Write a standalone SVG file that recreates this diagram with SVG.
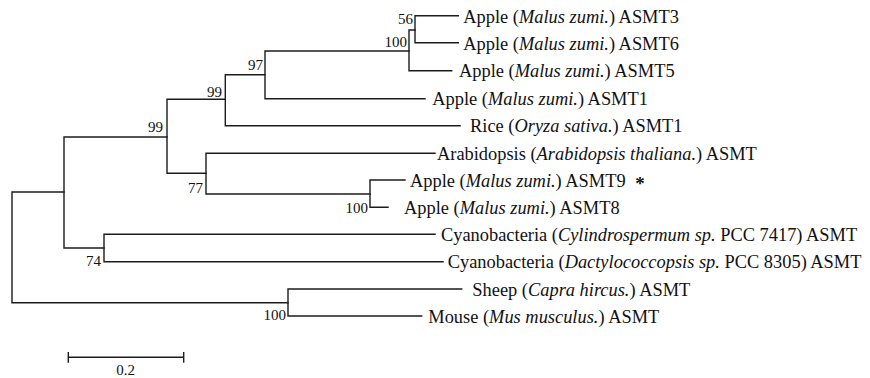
<svg xmlns="http://www.w3.org/2000/svg" width="870" height="378" viewBox="0 0 870 378">
<style>
.br{fill:none;stroke:#1c1c1c;stroke-width:1.4;stroke-linecap:square}
.lf{font-family:"Liberation Serif","Times New Roman",serif;font-size:18.4px;fill:#111}
.bs{font-family:"Liberation Serif","Times New Roman",serif;font-size:15px;fill:#111;text-anchor:end}
.it{font-style:italic}
</style>
<rect width="870" height="378" fill="#fff"/>
<g id="connectors">
<path class="br" d="M12,192 V302.7 M12,192 H64 M12,302.7 H288"/>
<path class="br" d="M64,137 V248 M64,137 H167 M64,248 H104"/>
<path class="br" d="M167,99.3 V173.3 M167,99.3 H225.3 M167,173.3 H206"/>
<path class="br" d="M225.3,74.7 V125.7 M225.3,74.7 H265 M225.3,125.7 H460"/>
<path class="br" d="M265,51 V98.7 M265,51 H409 M265,98.7 H425"/>
<path class="br" d="M409,30 V70.7 M409,30 H415 M409,70.7 H451.7"/>
<path class="br" d="M415,15.7 V42.7 M415,15.7 H458.3 M415,42.7 H458.3"/>
<path class="br" d="M206,153.3 V194 M206,153.3 H435 M206,194 H370"/>
<path class="br" d="M370,180 V207.3 M370,180 H405 M370,207.3 H388"/>
<path class="br" d="M104,234.3 V261.7 M104,234.3 H435 M104,261.7 H443"/>
<path class="br" d="M288,289 V316 M288,289 H461.7 M288,316 H421.7"/>
</g>
<g id="bootstrap">
<text class="bs" x="413" y="24">56</text>
<text class="bs" x="407" y="46.5">100</text>
<text class="bs" x="263" y="69.5">97</text>
<text class="bs" x="222" y="96.5">99</text>
<text class="bs" x="163" y="132">99</text>
<text class="bs" x="203" y="193">77</text>
<text class="bs" x="368" y="213">100</text>
<text class="bs" x="101" y="266">74</text>
<text class="bs" x="286" y="320">100</text>
</g>
<g id="leaf-asmt3"><text class="lf" x="463.3" y="22.5">Apple (<tspan class="it">Malus zumi.</tspan>) ASMT3</text></g>
<g id="leaf-asmt6"><text class="lf" x="463.3" y="49.5">Apple (<tspan class="it">Malus zumi.</tspan>) ASMT6</text></g>
<g id="leaf-asmt5"><text class="lf" x="459" y="77.3">Apple (<tspan class="it">Malus zumi.</tspan>) ASMT5</text></g>
<g id="leaf-asmt1"><text class="lf" x="432.3" y="105.3">Apple (<tspan class="it">Malus zumi.</tspan>) ASMT1</text></g>
<g id="leaf-rice"><text class="lf" x="470" y="132.3">Rice (<tspan class="it">Oryza sativa.</tspan>) ASMT1</text></g>
<g id="leaf-arabidopsis"><text class="lf" x="437" y="160">Arabidopsis (<tspan class="it">Arabidopsis thaliana.</tspan>) ASMT</text></g>
<g id="leaf-asmt9"><text class="lf" x="410" y="186.6">Apple (<tspan class="it">Malus zumi.</tspan>) ASMT9 <tspan x="640" y="189.5" font-weight="bold" font-size="19" text-anchor="middle">*</tspan></text></g>
<g id="leaf-asmt8"><text class="lf" x="404" y="214">Apple (<tspan class="it">Malus zumi.</tspan>) ASMT8</text></g>
<g id="leaf-cylindrospermum"><text class="lf" x="441" y="241">Cyanobacteria (<tspan class="it">Cylindrospermum sp.</tspan> PCC 7417) ASMT</text></g>
<g id="leaf-dactylococcopsis"><text class="lf" x="447.7" y="268.3">Cyanobacteria (<tspan class="it">Dactylococcopsis sp.</tspan> PCC 8305) ASMT</text></g>
<g id="leaf-sheep"><text class="lf" x="472.3" y="295.6">Sheep (<tspan class="it">Capra hircus.</tspan>) ASMT</text></g>
<g id="leaf-mouse"><text class="lf" x="428.3" y="322.6">Mouse (<tspan class="it">Mus musculus.</tspan>) ASMT</text></g>
<g id="scale-bar">
<path class="br" d="M68.3,357.3 H183.7 M68.3,352.7 V362 M183.7,352.7 V362"/>
<text class="bs" x="125.5" y="375" style="text-anchor:middle">0.2</text>
</g>
</svg>
